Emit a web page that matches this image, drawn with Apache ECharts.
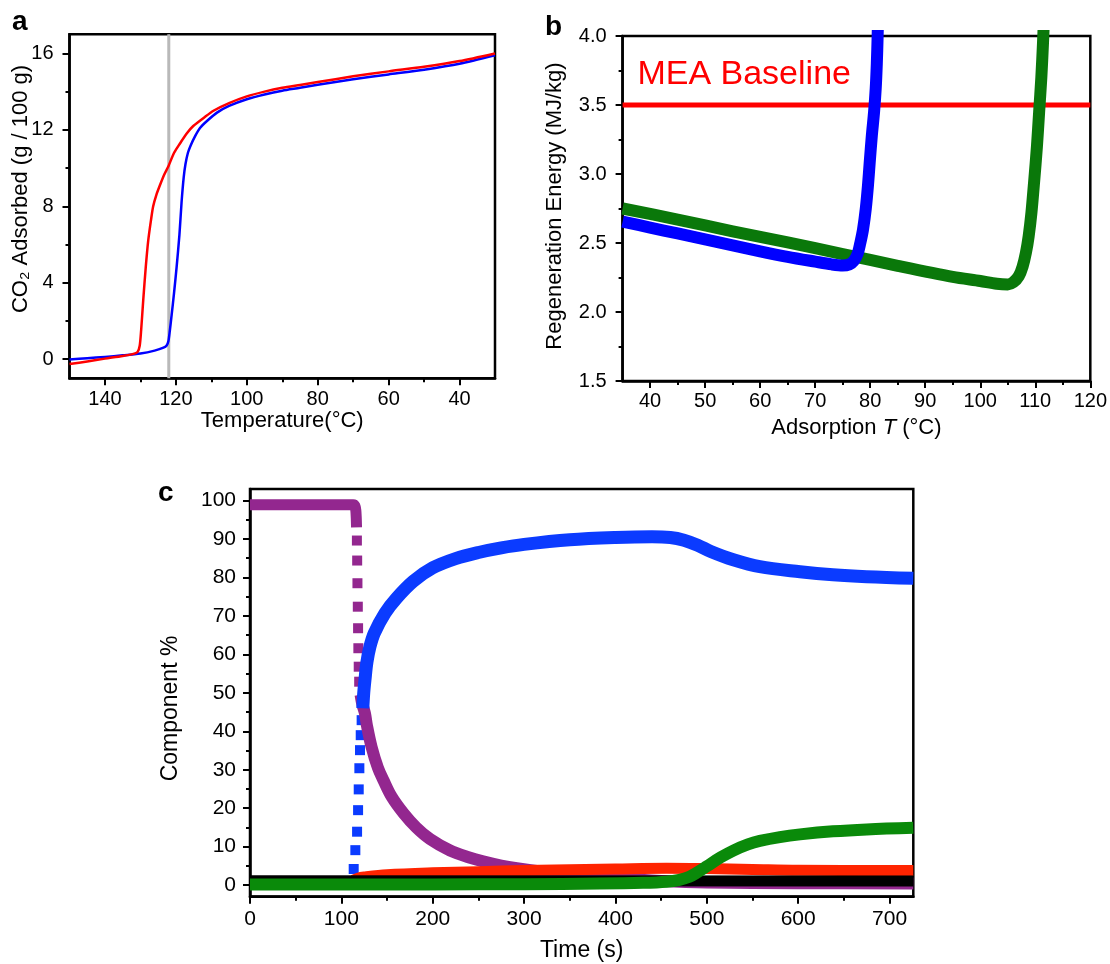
<!DOCTYPE html>
<html>
<head>
<meta charset="utf-8">
<script src="https://cdn.jsdelivr.net/npm/echarts@6/dist/echarts.min.js"></script>
<style>
  html, body { margin: 0; padding: 0; background: #fff; }
  #chart { width: 1110px; height: 964px; }
</style>
</head>
<body>
<div id="chart"></div>
<script>
// ---------- (a) CO2 uptake on cooling ----------
const aGuideLine = [[122, -1], [122, 17]];
const aBlueCurve = [[150,-0.02],[145,0.05],[140,0.12],[135,0.2],[130,0.3],[126,0.45],[123.5,0.6],[122.6,0.72],[122.1,0.95],[121.7,1.5],[121.2,2.3],[120.5,3.5],[119.8,4.8],[119,6.5],[118.4,8.2],[117.8,9.5],[117.3,10.2],[116.6,10.8],[115.8,11.2],[114.5,11.7],[113.2,12.1],[111,12.5],[108.4,12.9],[105,13.25],[100,13.6],[95,13.85],[90,14.05],[85,14.2],[80,14.36],[70,14.65],[60,14.9],[50,15.15],[40,15.46],[30,15.9]];
const aRedCurve = [[150,-0.25],[145,-0.12],[140,0.03],[135,0.17],[132,0.28],[130.8,0.38],[130.2,0.7],[129.8,1.5],[129.2,3.1],[128.5,4.8],[127.8,6.2],[127,7.3],[126.4,8.0],[125.5,8.6],[124.5,9.1],[123.3,9.65],[122.1,10.1],[120.5,10.8],[118.8,11.3],[117,11.8],[115.1,12.2],[112,12.65],[109.4,13.0],[105,13.4],[100,13.75],[95,14.0],[90,14.2],[85,14.35],[80,14.5],[70,14.8],[60,15.06],[50,15.3],[40,15.6],[30,16.0]];
const aXLabels = [40, 60, 80, 100, 120, 140];
const aXMinor = [50, 70, 90, 110, 130];
const aYLabels = [0, 4, 8, 12, 16];
const aYMinor = [2, 6, 10, 14];

// ---------- (b) regeneration energy vs adsorption temperature ----------
const bBaseline = [[35, 3.5], [120, 3.5]];
const bBlueCurve = [[35,2.655],[40,2.612],[45,2.569],[50,2.526],[55,2.483],[60,2.44],[65,2.4],[70,2.365],[73,2.345],[75,2.337],[76.2,2.345],[77,2.37],[77.7,2.42],[78.2,2.5],[78.7,2.6],[79.2,2.75],[79.6,2.92],[79.9,3.08],[80.3,3.28],[80.7,3.45],[81.0,3.62],[81.2,3.8],[81.35,4.0],[81.4,4.1]];
const bGreenCurve = [[35,2.75],[45,2.67],[55,2.585],[65,2.505],[75,2.42],[85,2.335],[95,2.255],[100,2.225],[103,2.205],[105,2.2],[106,2.215],[107,2.26],[107.7,2.33],[108.3,2.43],[108.8,2.55],[109.3,2.72],[109.8,2.95],[110.3,3.2],[110.7,3.45],[111.1,3.7],[111.4,3.95],[111.55,4.1]];
const bXLabels = [40, 50, 60, 70, 80, 90, 100, 110, 120];
const bXMinor = [45, 55, 65, 75, 85, 95, 105, 115];
const bYLabels = [1.5, 2.0, 2.5, 3.0, 3.5, 4.0];
const bYMinor = [1.75, 2.25, 2.75, 3.25, 3.75];

// ---------- (c) outlet gas composition vs time ----------
const cBlack = [[0, 1.15], [726, 1.1]];
const cPurpleHold = [[0,98.9],[113,98.9],[114.8,98.6],[115.8,97.5],[116.3,95.5],[116.6,93]];
const cPurpleDrop = [[117,89.6],[117.3,84.4],[117.6,78.5],[118,72.4],[118.3,66.8],[118.6,61.6],[119,56.8],[119.5,52.9]];
const cPurpleDecay = [[121,49.5],[123,47],[125.8,44.7],[128,41.5],[133,36],[140,30.5],[146,27.3],[155,23],[168,18.7],[182,15],[197,12],[219,9],[240,7.2],[255,6.2],[275,5.1],[292,4.4],[320,3.5],[350,2.7],[400,1.8],[450,1.1],[500,0.7],[600,0.5],[726,0.45]];
const cBlueRise = [[113.5,4.2],[115.3,9.1],[117.2,13.9],[118.3,19.5],[119,24.9],[119.7,30.4],[120.4,35.1],[121.2,39],[122.2,42.9]];
const cBlueCurve = [[123.5,46],[124.5,50],[125.8,53.3],[128,58],[131.3,62],[136,65.5],[147.7,70.7],[160,74.5],[178.7,79],[200,82.5],[225,84.9],[250,86.5],[275,87.7],[300,88.6],[350,89.8],[400,90.4],[440,90.6],[460,90.4],[475,89.7],[490,88.4],[505,86.7],[529,84.6],[558,82.8],[602,81.5],[638,80.7],[675,80.2],[726,79.8]];
const cRed = [[113,1.3],[118,1.8],[125,2.1],[150,2.7],[200,3.2],[250,3.5],[300,3.8],[400,4.2],[456,4.4],[500,4.3],[550,4.1],[600,3.9],[726,3.8]];
const cGreen = [[0,0.18],[200,0.2],[300,0.25],[383,0.4],[430,0.6],[456,0.9],[470,1.4],[481,2.2],[490,3.4],[500,4.9],[515,7.2],[529,9.0],[545,10.6],[558,11.5],[580,12.5],[602,13.2],[638,14.0],[675,14.5],[726,14.9]];
const cXLabels = [0, 100, 200, 300, 400, 500, 600, 700];
const cXMinor = [50, 150, 250, 350, 450, 550, 650];
const cYLabels = [0, 10, 20, 30, 40, 50, 60, 70, 80, 90, 100];
const cYMinor = [5, 15, 25, 35, 45, 55, 65, 75, 85, 95];

const FONT = '"Liberation Sans", Arial, Helvetica, sans-serif';
const INK = '#000';

// Labelled axis with long outward ticks at the listed values
function majorAxis(o) {
  return {
    type: 'value', gridIndex: o.grid, position: o.position,
    min: o.min, max: o.max, inverse: !!o.inverse,
    axisLine: { show: true, onZero: false, lineStyle: { color: INK, width: 2.5 } },
    axisTick: { show: true, inside: false, length: 7, customValues: o.ticks, lineStyle: { color: INK, width: 2 } },
    axisLabel: { show: true, customValues: o.ticks, margin: o.margin, fontSize: o.fontSize, color: INK, fontFamily: FONT, formatter: o.fmt },
    splitLine: { show: false },
    name: o.name || '', nameLocation: 'middle', nameGap: o.nameGap || 0,
    nameTextStyle: o.nameStyle || {}
  };
}
// Companion axis carrying only the short intermediate ticks
function minorAxis(o) {
  return {
    type: 'value', gridIndex: o.grid, position: o.position,
    min: o.min, max: o.max, inverse: !!o.inverse,
    axisLine: { show: false, onZero: false }, axisLabel: { show: false }, splitLine: { show: false },
    axisTick: { show: true, inside: false, length: 4, customValues: o.minor, lineStyle: { color: INK, width: 2 } }
  };
}
function curve(ai, data, color, width, smooth) {
  return {
    type: 'line', xAxisIndex: ai, yAxisIndex: ai, data: data,
    symbol: 'none', showSymbol: false, silent: true, clip: true,
    smooth: smooth || false,
    lineStyle: { color: color, width: width, join: 'round', cap: 'butt' }
  };
}
function squares(ai, data, color, size) {
  return {
    type: 'scatter', xAxisIndex: ai, yAxisIndex: ai, data: data,
    symbol: 'rect', symbolSize: size, silent: true, itemStyle: { color: color, opacity: 1 }
  };
}

const titleStyle = (size) => ({ fontSize: size, color: INK, fontFamily: FONT });

const option = {
  animation: false,
  backgroundColor: '#fff',
  textStyle: { fontFamily: FONT },
  grid: [
    { left: 69.5, top: 34.3, width: 425.5, height: 344, show: true, borderColor: INK, borderWidth: 2.5, backgroundColor: 'transparent' },
    { left: 622.6, top: 36, width: 469.3, height: 345, show: true, borderColor: INK, borderWidth: 2.5, backgroundColor: 'transparent' },
    { left: 250, top: 489, width: 663.3, height: 407.7, show: true, borderColor: INK, borderWidth: 2.5, backgroundColor: 'transparent' }
  ],
  xAxis: [
    majorAxis({ grid: 0, position: 'bottom', min: 30, max: 150, inverse: true, ticks: aXLabels, margin: 11, fontSize: 20,
      name: 'Temperature(°C)', nameGap: 29, nameStyle: titleStyle(22) }),
    minorAxis({ grid: 0, position: 'bottom', min: 30, max: 150, inverse: true, minor: aXMinor }),
    majorAxis({ grid: 1, position: 'bottom', min: 35, max: 120, ticks: bXLabels, margin: 10, fontSize: 20,
      name: 'Adsorption {i|T} (°C)', nameGap: 36,
      nameStyle: Object.assign(titleStyle(22), { rich: { i: { fontStyle: 'italic', fontSize: 22, fontFamily: FONT, color: INK } } }) }),
    minorAxis({ grid: 1, position: 'bottom', min: 35, max: 120, minor: bXMinor }),
    majorAxis({ grid: 2, position: 'bottom', min: 0, max: 726, ticks: cXLabels, margin: 12, fontSize: 21,
      name: 'Time (s)', nameGap: 42, nameStyle: titleStyle(23) }),
    minorAxis({ grid: 2, position: 'bottom', min: 0, max: 726, minor: cXMinor })
  ],
  yAxis: [
    majorAxis({ grid: 0, position: 'left', min: -1, max: 17, ticks: aYLabels, margin: 16, fontSize: 20 }),
    minorAxis({ grid: 0, position: 'left', min: -1, max: 17, minor: aYMinor }),
    majorAxis({ grid: 1, position: 'left', min: 1.5, max: 4.0, ticks: bYLabels, margin: 16, fontSize: 20,
      fmt: (v) => v.toFixed(1) }),
    minorAxis({ grid: 1, position: 'left', min: 1.5, max: 4.0, minor: bYMinor }),
    majorAxis({ grid: 2, position: 'left', min: -3, max: 103, ticks: cYLabels, margin: 14, fontSize: 21 }),
    minorAxis({ grid: 2, position: 'left', min: -3, max: 103, minor: cYMinor })
  ],
  series: [
    // (a)
    curve(0, aGuideLine, '#b9b9b9', 3),
    curve(0, aBlueCurve, '#0000ff', 2.5, 0.25),
    curve(0, aRedCurve, '#ff0000', 2.5, 0.25),
    // (b)
    curve(2, bBaseline, '#ff0000', 5),
    curve(2, bGreenCurve, '#0a780a', 12, 0.3),
    curve(2, bBlueCurve, '#0000ff', 12, 0.3),
    // (c)
    curve(4, cPurpleHold, '#93278f', 11, 0.3),
    squares(4, cPurpleDrop, '#93278f', 10),
    curve(4, cPurpleDecay, '#93278f', 12, 0.35),
    squares(4, cBlueRise, '#0b3bff', 10),
    curve(4, cBlueCurve, '#0b3bff', 13, 0.35),
    curve(4, cRed, '#ff2400', 11, 0.35),
    curve(4, cBlack, '#000000', 11),
    curve(4, cGreen, '#0a8a0a', 12, 0.35)
  ],
  graphic: [
    { type: 'text', x: 12, y: 22, silent: true,
      style: { text: 'a', fontSize: 28, fontWeight: 'bold', fontFamily: FONT, fill: INK, verticalAlign: 'middle' } },
    { type: 'text', x: 545, y: 27, silent: true,
      style: { text: 'b', fontSize: 28, fontWeight: 'bold', fontFamily: FONT, fill: INK, verticalAlign: 'middle' } },
    { type: 'text', x: 158, y: 493.5, silent: true,
      style: { text: 'c', fontSize: 28, fontWeight: 'bold', fontFamily: FONT, fill: INK, verticalAlign: 'middle' } },
    { type: 'text', x: 637.4, y: 74.8, silent: true,
      style: { text: 'MEA Baseline', fontSize: 34, fontFamily: FONT, fill: '#ff0000', verticalAlign: 'middle' } },
    { type: 'text', x: 20.7, y: 189, rotation: Math.PI / 2, silent: true,
      style: { text: 'CO₂ Adsorbed (g / 100 g)', fontSize: 22, fontFamily: FONT, fill: INK, align: 'center', verticalAlign: 'middle' } },
    { type: 'text', x: 554.7, y: 206, rotation: Math.PI / 2, silent: true,
      style: { text: 'Regeneration Energy (MJ/kg)', fontSize: 22, fontFamily: FONT, fill: INK, align: 'center', verticalAlign: 'middle' } },
    { type: 'text', x: 170.5, y: 708.5, rotation: Math.PI / 2, silent: true,
      style: { text: 'Component %', fontSize: 23, fontFamily: FONT, fill: INK, align: 'center', verticalAlign: 'middle' } }
  ]
};

const chart = echarts.init(document.getElementById('chart'), null, { renderer: 'canvas' });
chart.setOption(option);
</script>
</body>
</html>
